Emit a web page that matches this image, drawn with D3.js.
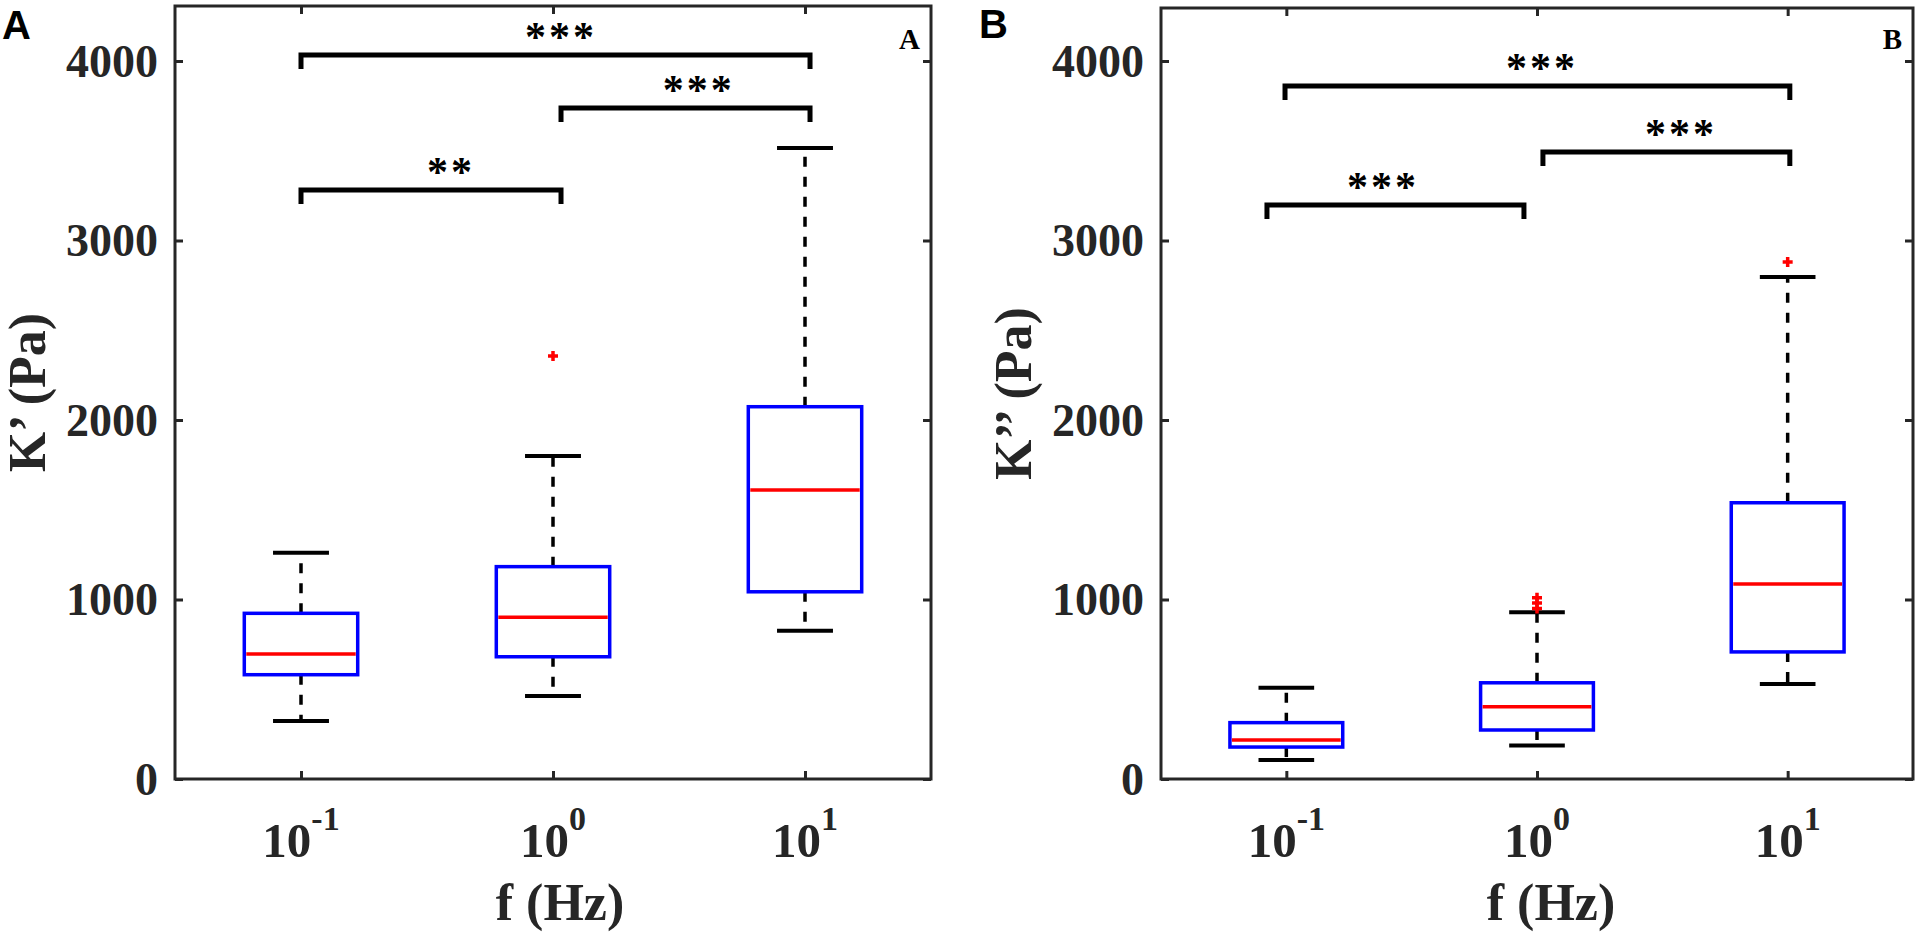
<!DOCTYPE html>
<html>
<head>
<meta charset="utf-8">
<script src="https://cdn.jsdelivr.net/npm/d3@7"></script>
<style>
  html, body { margin: 0; padding: 0; background: #fff; }
  svg { display: block; }
</style>
</head>
<body>
<div id="chart"></div>
<script>
// frequencies (Hz) of the three groups
var freqs = [0.1, 1, 10];
var freqExp = ['-1', '0', '1'];
var yTicks = [0, 1000, 2000, 3000, 4000];

// K' (Pa) box statistics
var kpLow = [323, 462, 826];
var kpQ1 = [581, 681, 1043];
var kpMed = [696, 901, 1610];
var kpQ3 = [923, 1183, 2074];
var kpHigh = [1261, 1799, 3515];
var kpOutliers = [[], [2357], []];
var kpBrackets = [
	{x1: 0.1, x2: 10.47, y: 4033, tx: 1.076, label: '***'},
	{x1: 1.076, x2: 10.47, y: 3738, tx: 3.79, label: '***'},
	{x1: 0.1, x2: 1.076, y: 3281, tx: 0.394, label: '**'}
];

// K'' (Pa) box statistics
var kppLow = [106, 186, 529];
var kppQ1 = [178, 273, 708];
var kppMed = [217, 403, 1086];
var kppQ3 = [314, 536, 1539];
var kppHigh = [509, 929, 2797];
var kppOutliers = [[], [1010, 980, 950], [2880]];
var kppBrackets = [
	{x1: 0.0988, x2: 10.2, y: 3861, tx: 1.046, label: '***'},
	{x1: 1.056, x2: 10.2, y: 3493, tx: 3.75, label: '***'},
	{x1: 0.0837, x2: 0.887, y: 3198, tx: 0.243, label: '***'}
];

var W = 1931, H = 935;
var axisColor = '#262626';
var serif = '"Liberation Serif", "Times New Roman", serif';
var sans = '"Liberation Sans", Arial, sans-serif';

var panels = [
	{
		letter: 'A', letterX: 2, letterY: 39, left: 175, right: 931, top: 6, bottom: 779,
		yLabel: 'K\u2019 (Pa)', xLabelX: 560,
		low: kpLow, q1: kpQ1, med: kpMed, q3: kpQ3, high: kpHigh, outliers: kpOutliers, brackets: kpBrackets
	},
	{
		letter: 'B', letterX: 979, letterY: 38, left: 1161, right: 1913, top: 8, bottom: 779,
		yLabel: 'K\u2019\u2019 (Pa)', xLabelX: 1551,
		low: kppLow, q1: kppQ1, med: kppMed, q3: kppQ3, high: kppHigh, outliers: kppOutliers, brackets: kppBrackets
	}
];

var svg = d3.select('#chart')
	.append('svg')
	.attr('width', W)
	.attr('height', H);

svg.append('rect').attr('width', W).attr('height', H).attr('fill', '#fff');

var boxHalf = Math.pow(10, 0.225);   // box half width in decades
var capHalf = Math.pow(10, 0.111);   // whisker cap half width

panels.forEach(function(p) {
	var x = d3.scaleLog().domain([Math.pow(10, -1.5), Math.pow(10, 1.5)]).range([p.left, p.right]);
	var y = d3.scaleLinear().domain([0, 4000]).range([p.bottom, p.bottom - 718]);

	var g = svg.append('g');

	// inward ticks on all four sides
	var axes = [
		{ax: d3.axisLeft(y).tickValues(yTicks), tr: 'translate(' + p.left + ',0)'},
		{ax: d3.axisRight(y).tickValues(yTicks), tr: 'translate(' + p.right + ',0)'},
		{ax: d3.axisBottom(x).tickValues(freqs), tr: 'translate(0,' + p.bottom + ')'},
		{ax: d3.axisTop(x).tickValues(freqs), tr: 'translate(0,' + p.top + ')'}
	];
	axes.forEach(function(a) {
		var s = g.append('g')
			.attr('transform', a.tr)
			.call(a.ax.tickSize(-8).tickFormat(''));
		s.select('.domain').remove();
		s.selectAll('.tick line').style('stroke', axisColor).style('stroke-width', 3);
	});

	g.append('rect')
		.attr('x', p.left).attr('y', p.top)
		.attr('width', p.right - p.left).attr('height', p.bottom - p.top)
		.attr('fill', 'none')
		.style('stroke', axisColor).style('stroke-width', 3);

	// y tick labels
	g.selectAll('.ylab').data(yTicks).enter().append('text')
		.attr('x', p.left - 17)
		.attr('y', function(d) { return y(d); })
		.attr('dy', '0.34em')
		.attr('text-anchor', 'end')
		.style('font-family', serif).style('font-weight', 'bold').style('font-size', '46px')
		.style('fill', axisColor)
		.text(function(d) { return d; });

	// x tick labels 10^n
	var xl = g.selectAll('.xlab').data(freqs).enter().append('text')
		.attr('x', function(d) { return x(d); })
		.attr('y', 857)
		.attr('text-anchor', 'middle')
		.style('font-family', serif).style('font-weight', 'bold')
		.style('fill', axisColor);
	xl.append('tspan').style('font-size', '49px').text('10');
	xl.append('tspan').attr('dy', -27).style('font-size', '34px')
		.text(function(d, i) { return freqExp[i]; });

	// axis titles
	g.append('text')
		.attr('x', p.xLabelX).attr('y', 920)
		.attr('text-anchor', 'middle')
		.style('font-family', serif).style('font-weight', 'bold').style('font-size', '52px')
		.style('fill', axisColor)
		.text('f (Hz)');

	g.append('text')
		.attr('transform', 'translate(' + (p.left - 130) + ',' + ((p.top + p.bottom) / 2) + ') rotate(-90)')
		.attr('text-anchor', 'middle')
		.style('font-family', serif).style('font-weight', 'bold').style('font-size', '52px')
		.style('fill', axisColor)
		.text(p.yLabel);

	// panel letters
	svg.append('text')
		.attr('x', p.letterX).attr('y', p.letterY)
		.style('font-family', sans).style('font-weight', 'bold').style('font-size', '40px')
		.style('fill', '#000')
		.text(p.letter);

	g.append('text')
		.attr('x', p.right - 11).attr('y', 49)
		.attr('text-anchor', 'end')
		.style('font-family', serif).style('font-weight', 'bold').style('font-size', '29px')
		.style('fill', '#000')
		.text(p.letter);

	// boxes
	var boxes = g.selectAll('.box').data(freqs).enter().append('g');

	boxes.append('line')
		.attr('x1', function(d) { return x(d); }).attr('x2', function(d) { return x(d); })
		.attr('y1', function(d, i) { return y(p.q3[i]); })
		.attr('y2', function(d, i) { return y(p.high[i]); })
		.style('stroke', '#000').style('stroke-width', 3.5).style('stroke-dasharray', '10,10');
	boxes.append('line')
		.attr('x1', function(d) { return x(d); }).attr('x2', function(d) { return x(d); })
		.attr('y1', function(d, i) { return y(p.q1[i]); })
		.attr('y2', function(d, i) { return y(p.low[i]); })
		.style('stroke', '#000').style('stroke-width', 3.5).style('stroke-dasharray', '10,10');

	['high', 'low'].forEach(function(k) {
		boxes.append('line')
			.attr('x1', function(d) { return x(d / capHalf); })
			.attr('x2', function(d) { return x(d * capHalf); })
			.attr('y1', function(d, i) { return y(p[k][i]); })
			.attr('y2', function(d, i) { return y(p[k][i]); })
			.style('stroke', '#000').style('stroke-width', 4);
	});

	boxes.append('rect')
		.attr('x', function(d) { return x(d / boxHalf); })
		.attr('width', function(d) { return x(d * boxHalf) - x(d / boxHalf); })
		.attr('y', function(d, i) { return y(p.q3[i]); })
		.attr('height', function(d, i) { return y(p.q1[i]) - y(p.q3[i]); })
		.attr('fill', 'none')
		.style('stroke', '#0000ff').style('stroke-width', 3.5);

	boxes.append('line')
		.attr('x1', function(d) { return x(d / boxHalf) + 2; })
		.attr('x2', function(d) { return x(d * boxHalf) - 2; })
		.attr('y1', function(d, i) { return y(p.med[i]); })
		.attr('y2', function(d, i) { return y(p.med[i]); })
		.style('stroke', '#ff0000').style('stroke-width', 3.5);

	// outliers
	var pts = [];
	freqs.forEach(function(f, i) {
		p.outliers[i].forEach(function(v) { pts.push({f: f, v: v}); });
	});
	g.selectAll('.out').data(pts).enter().append('path')
		.attr('d', function(d) {
			var cx = x(d.f), cy = y(d.v), r = 5;
			return 'M' + (cx - r) + ',' + cy + 'H' + (cx + r) + 'M' + cx + ',' + (cy - r) + 'V' + (cy + r);
		})
		.style('stroke', '#ff0000').style('stroke-width', 3.5).style('fill', 'none');

	// significance brackets
	var br = g.selectAll('.br').data(p.brackets).enter().append('g');
	br.append('path')
		.attr('d', function(d) {
			var a = x(d.x1), b = x(d.x2), yy = y(d.y);
			return 'M' + a + ',' + (yy + 14) + 'V' + yy + 'H' + b + 'V' + (yy + 14);
		})
		.style('stroke', '#000').style('stroke-width', 5).style('fill', 'none');
	br.append('text')
		.attr('x', function(d) { return x(d.tx); })
		.attr('y', function(d) { return y(d.y) - 4; })
		.attr('text-anchor', 'middle')
		.style('font-family', serif).style('font-weight', 'bold').style('font-size', '42px')
		.style('letter-spacing', '3px')
		.style('fill', '#000')
		.text(function(d) { return d.label; });
});
</script>
</body>
</html>
